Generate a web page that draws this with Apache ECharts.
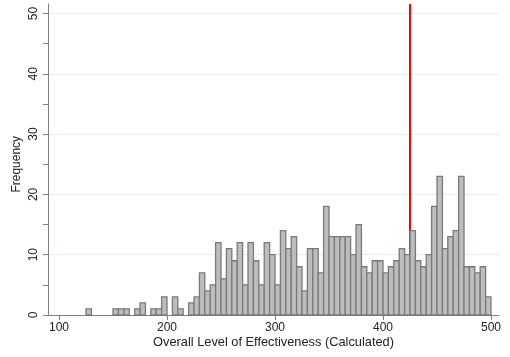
<!DOCTYPE html>
<html>
<head>
<meta charset="utf-8">
<script src="https://cdn.jsdelivr.net/npm/echarts@6/dist/echarts.min.js"></script>
<style>html,body{margin:0;padding:0;background:#fff;}#c{width:510px;height:357px;}</style>
</head>
<body>
<div id="c"></div>
<script>
// Histogram: bins of width 5 starting at 125
var binStart = 125;
var binWidth = 5;
var counts = [
  1, 0, 0, 0, 0, 1, 1, 1, 0, 1, 2, 0, 1, 1, 3, 0, 3, 1, 0, 2,
  3, 7, 4, 5, 12, 6, 11, 9, 12, 5, 12, 9, 5, 12, 10, 5, 14, 11, 13, 8,
  4, 11, 11, 7, 18, 13, 13, 13, 13, 10, 15, 8, 7, 9, 9, 7, 8, 9, 11, 10,
  14, 9, 8, 10, 18, 23, 11, 13, 14, 23, 8, 8, 7, 8, 3
];
var xTicks = [100, 200, 300, 400, 500];
var yTicks = [0, 10, 20, 30, 40, 50];
var redLineX = 425;
var xTitle = 'Overall Level of Effectiveness (Calculated)';
var yTitle = 'Frequency';

var bins = counts.map(function (c, i) {
  var s = binStart + i * binWidth;
  return [s, s + binWidth, c];
});

var font = 'Liberation Sans, Arial, sans-serif';
var textColor = '#222';
var axisColor = '#7f7f7f';

var chart = echarts.init(document.getElementById('c'), null, {renderer: 'canvas'});
chart.setOption({
  animation: false,
  backgroundColor: '#fff',
  grid: [
    {left: 48, right: 11, top: 13.5, bottom: 42},
    {left: 48, right: 11, top: 4, bottom: 42},
    {left: 59, right: 19, top: 13.5, bottom: 42}
  ],
  xAxis: [
    {
      gridIndex: 0, type: 'value', min: 89.8, max: 507.4,
      axisLine: {show: true, lineStyle: {color: axisColor, width: 1}},
      axisTick: {show: false}, axisLabel: {show: false}, splitLine: {show: false},
      name: xTitle, nameLocation: 'middle', nameGap: 21,
      nameTextStyle: {fontFamily: font, fontSize: 12.8, color: textColor}
    },
    {
      gridIndex: 1, type: 'value', min: 89.8, max: 507.4, show: false
    },
    {
      gridIndex: 2, type: 'value', min: xTicks[0], max: xTicks[xTicks.length - 1], interval: 100,
      axisLine: {show: false},
      axisTick: {show: true, length: 5, lineStyle: {color: axisColor}},
      axisLabel: {show: true, margin: 7, fontFamily: font, fontSize: 12, color: textColor},
      splitLine: {show: false}
    }
  ],
  yAxis: [
    {
      gridIndex: 0, type: 'value', min: yTicks[0], max: yTicks[yTicks.length - 1], interval: 10,
      axisLine: {show: true, lineStyle: {color: axisColor, width: 1}},
      axisTick: {show: true, length: 5, lineStyle: {color: axisColor}},
      minorTick: {show: true, splitNumber: 2, length: 5, lineStyle: {color: axisColor}},
      axisLabel: {show: true, rotate: 90, margin: 8, fontFamily: font, fontSize: 12, color: textColor},
      splitLine: {show: true, lineStyle: {color: '#e4edef', width: 1.2}},
      name: yTitle, nameLocation: 'middle', nameGap: 25, nameRotate: 90,
      nameMoveOverlap: false,
      nameTextStyle: {fontFamily: font, fontSize: 12, color: textColor}
    },
    {
      gridIndex: 1, type: 'value', min: 0, max: 51.6,
      axisLine: {show: true, lineStyle: {color: axisColor, width: 1}},
      axisTick: {show: false}, axisLabel: {show: false}, splitLine: {show: false}
    },
    {
      gridIndex: 2, type: 'value', min: 0, max: 50, show: false
    }
  ],
  series: [
    {
      type: 'line', xAxisIndex: 1, yAxisIndex: 1, z: 1, clip: false,
      symbol: 'none', silent: true,
      lineStyle: {color: '#ff0000', width: 2},
      data: [[redLineX, 0], [redLineX, 51.6]]
    },
    {
      type: 'custom', xAxisIndex: 0, yAxisIndex: 0, z: 2,
      renderItem: function (params, api) {
        var p0 = api.coord([api.value(0), 0]);
        var p1 = api.coord([api.value(1), api.value(2)]);
        if (api.value(2) <= 0) return null;
        return {
          type: 'rect',
          shape: {x: p0[0], y: p1[1], width: p1[0] - p0[0], height: p0[1] - p1[1]},
          style: {fill: '#bdbdbd', stroke: '#7a7a7a', lineWidth: 1.3}
        };
      },
      encode: {x: [0, 1], y: 2},
      data: bins
    }
  ]
});
</script>
</body>
</html>
